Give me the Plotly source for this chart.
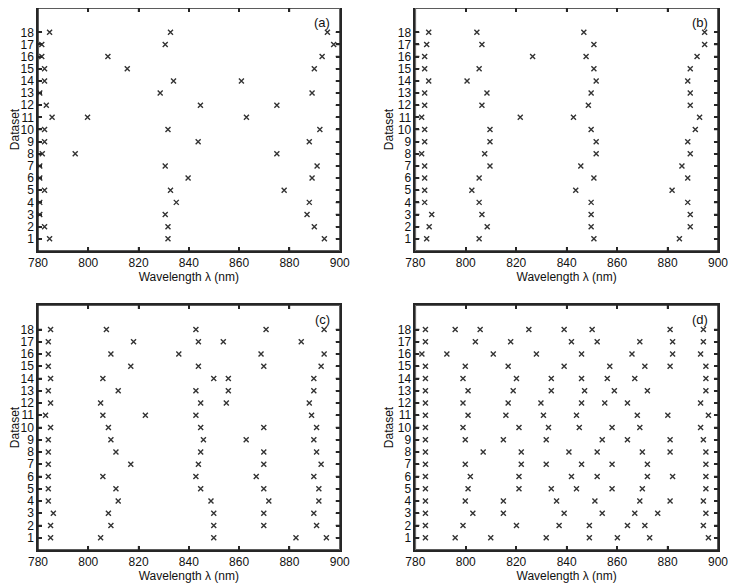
"""Four panels of peak wavelengths per dataset (a)-(d)."""
import plotly.graph_objects as go

# Peak wavelengths (nm) for datasets 1..18, one list per dataset
panel_a = [
    [784.6, 831.7, 893.9],
    [782.6, 831.7, 889.9],
    [780.7, 830.6, 887.0],
    [780.7, 835.0, 887.9],
    [782.6, 832.7, 877.9],
    [780.7, 839.7, 889.0],
    [780.7, 830.6, 891.0],
    [781.7, 794.8, 875.0],
    [782.6, 843.7, 887.9],
    [782.6, 831.7, 892.1],
    [785.6, 799.7, 862.9],
    [783.3, 844.6, 875.0],
    [780.7, 828.6, 889.0],
    [782.6, 833.9, 860.9],
    [782.6, 815.5, 889.9],
    [781.5, 807.8, 893.0],
    [781.5, 830.6, 897.6],
    [784.6, 832.7, 895.1],
]
panel_b = [
    [784.5, 805.3, 850.8, 884.7],
    [785.5, 808.5, 849.7, 889.0],
    [786.5, 806.4, 849.7, 889.0],
    [783.7, 805.3, 849.7, 888.0],
    [783.7, 802.4, 843.6, 881.8],
    [783.7, 805.3, 850.8, 888.0],
    [783.7, 809.6, 845.6, 885.7],
    [782.5, 807.5, 851.7, 889.0],
    [783.7, 809.6, 851.7, 888.0],
    [783.7, 809.6, 849.7, 891.0],
    [782.5, 821.6, 842.7, 892.7],
    [783.7, 806.4, 848.6, 889.0],
    [783.7, 808.4, 849.7, 889.0],
    [785.3, 800.5, 851.7, 888.0],
    [783.7, 805.3, 850.8, 889.0],
    [783.7, 826.5, 847.7, 891.7],
    [784.5, 806.4, 850.8, 894.7],
    [785.3, 804.4, 846.8, 894.7],
]
panel_c = [
    [785.0, 804.9, 849.9, 882.6, 894.7],
    [785.0, 809.0, 849.9, 869.8, 890.8],
    [786.1, 808.0, 849.9, 869.8, 889.7],
    [784.1, 811.9, 848.8, 871.8, 891.7],
    [784.1, 811.0, 844.7, 869.8, 891.7],
    [784.1, 805.8, 842.8, 866.8, 889.7],
    [784.1, 816.9, 843.8, 869.8, 892.6],
    [784.1, 811.0, 844.7, 869.8, 890.8],
    [784.1, 809.0, 845.8, 862.8, 889.7],
    [785.0, 808.0, 844.7, 869.8, 890.8],
    [783.0, 805.8, 822.7, 842.8, 888.8],
    [785.0, 804.9, 844.7, 854.9, 887.9],
    [784.1, 811.9, 842.8, 855.7, 889.7],
    [785.0, 805.8, 849.9, 855.7, 889.7],
    [784.1, 816.9, 843.8, 869.8, 892.6],
    [784.1, 809.0, 836.0, 868.7, 893.8],
    [784.1, 818.0, 843.8, 853.7, 884.7],
    [785.0, 807.2, 842.8, 870.7, 893.8],
]
panel_d = [
    [784.0, 795.8, 809.9, 831.9, 849.0, 860.1, 872.9, 896.2],
    [784.0, 798.9, 820.1, 837.0, 849.0, 864.1, 871.0, 894.2],
    [784.0, 802.8, 814.9, 839.0, 854.1, 867.0, 876.1, 895.2],
    [784.0, 799.8, 814.9, 836.0, 851.2, 869.0, 881.0, 894.2],
    [784.0, 800.9, 821.1, 833.9, 843.9, 858.0, 870.0, 895.2],
    [784.0, 801.8, 821.1, 841.9, 852.1, 872.0, 882.0, 895.2],
    [784.0, 799.8, 822.0, 831.9, 845.9, 858.0, 872.0, 895.2],
    [784.0, 806.9, 822.0, 840.9, 852.1, 870.0, 881.0, 895.2],
    [784.0, 799.8, 814.9, 831.9, 854.1, 864.1, 881.0, 894.2],
    [784.0, 798.9, 821.1, 832.8, 845.0, 858.0, 869.0, 893.1],
    [784.0, 800.9, 815.9, 830.8, 843.9, 868.0, 880.1, 896.2],
    [784.0, 798.9, 816.8, 829.8, 845.9, 855.1, 864.1, 893.1],
    [784.0, 800.9, 818.8, 833.9, 847.1, 858.9, 872.0, 895.2],
    [784.0, 798.9, 820.1, 833.9, 845.9, 856.1, 867.0, 895.2],
    [784.0, 799.8, 816.8, 839.0, 857.1, 871.0, 881.0, 895.2],
    [782.6, 792.5, 810.9, 828.0, 845.9, 865.9, 882.0, 893.1],
    [784.0, 803.8, 817.8, 841.9, 852.1, 869.0, 882.0, 894.2],
    [784.0, 795.8, 805.7, 825.0, 839.0, 850.1, 881.0, 894.2],
]
panel_labels = ["(a)", "(b)", "(c)", "(d)"]
x_ticks = [780, 800, 820, 840, 860, 880, 900]
y_ticks = list(range(1, 19))
x_range = [780, 900]
y_range = [0, 20]

FONT = "Liberation Sans, Arial, sans-serif"
INK = "#111111"
FRAME = "#262626"

# panel boxes as fractions of the plotting area: (x domain, y domain)
# (the page adds an 8px body margin, so the figure is laid out 8px up/left)
DOMAINS = [
    ([0.0, 0.4437], [0.5517, 1.0]),
    ([0.5549, 1.0], [0.5517, 1.0]),
    ([0.0, 0.4437], [0.0, 0.4520]),
    ([0.5549, 1.0], [0.0, 0.4520]),
]
# inward tick length in data units (~4px)
TICK_DX = 1.6
TICK_DY = 0.33

fig = go.Figure()
for i, (data, label) in enumerate(zip([panel_a, panel_b, panel_c, panel_d], panel_labels)):
    suffix = "" if i == 0 else str(i + 1)
    xa, ya = "x" + suffix, "y" + suffix

    # frame + inward ticks on all four sides, as one line trace
    x0, x1 = x_range
    y0, y1 = y_range
    fx = [x0, x1, x1, x0, x0, None]
    fy = [y0, y0, y1, y1, y0, None]
    for t in x_ticks[1:-1]:
        fx += [t, t, None, t, t, None]
        fy += [y0, y0 + TICK_DY, None, y1, y1 - TICK_DY, None]
    for t in y_ticks:
        fx += [x0, x0 + TICK_DX, None, x1, x1 - TICK_DX, None]
        fy += [t, t, None, t, t, None]
    fig.add_trace(go.Scatter(
        x=fx, y=fy, mode="lines", line=dict(color=FRAME, width=1.5),
        xaxis=xa, yaxis=ya, showlegend=False, hoverinfo="skip", cliponaxis=False,
    ))

    xs, ys = [], []
    for ds, peaks in enumerate(data, start=1):
        xs.extend(peaks)
        ys.extend([ds] * len(peaks))
    fig.add_trace(go.Scatter(
        x=xs, y=ys, mode="markers",
        marker=dict(symbol="x-thin", size=5, line=dict(width=1.4, color="#333333")),
        xaxis=xa, yaxis=ya, showlegend=False, hoverinfo="skip",
    ))

    xd, yd = DOMAINS[i]
    axis_common = dict(
        showline=True, linecolor=FRAME, linewidth=1.5, mirror="ticks",
        ticks="inside", ticklen=4, tickwidth=1.5, tickcolor=FRAME,
        showgrid=False, zeroline=False, automargin=False,
        tickfont=dict(family=FONT, size=12, color=INK),
    )
    fig.layout["xaxis" + suffix] = dict(
        axis_common, domain=xd, range=x_range, tickvals=x_ticks,
        anchor=ya,
        title=dict(text="Wavelength λ (nm)", font=dict(family=FONT, size=12, color=INK), standoff=0),
    )
    fig.layout["yaxis" + suffix] = dict(
        axis_common, domain=yd, range=y_range, tickvals=y_ticks,
        anchor=xa,
        title=dict(text="Dataset", font=dict(family=FONT, size=12, color=INK), standoff=2),
    )
    fig.add_annotation(
        x=xd[1] - 0.012, y=yd[1] - 0.009, xref="paper", yref="paper",
        text=label, showarrow=False, xanchor="right", yanchor="top",
        font=dict(family=FONT, size=13, color=INK),
    )

fig.update_layout(
    width=728, height=578,
    margin=dict(l=30, r=18, t=0, b=36),
    plot_bgcolor="white", paper_bgcolor="white",
)
fig.write_html("out.html")
